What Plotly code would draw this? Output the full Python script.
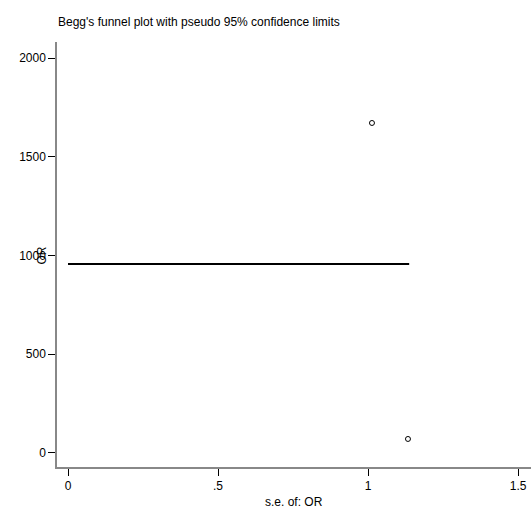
import plotly.graph_objects as go

se_values = [1.013, 1.133]
or_values = [1671, 71]
pooled_or = 957
line_se = [0, 1.137]

x_tickvals = [0, 0.5, 1, 1.5]
x_ticktext = ["0", ".5", "1", "1.5"]
y_tickvals = [0, 500, 1000, 1500, 2000]
y_ticktext = ["0", "500", "1000", "1500", "2000"]

FONT = "Liberation Sans, Arial, sans-serif"

fig = go.Figure()
fig.add_trace(go.Scatter(
    x=line_se, y=[pooled_or, pooled_or], mode="lines",
    line=dict(color="black", width=2), showlegend=False, hoverinfo="skip"))
fig.add_trace(go.Scatter(
    x=se_values, y=or_values, mode="markers",
    marker=dict(symbol="circle-open", size=5, color="black", line=dict(width=1)),
    showlegend=False))

fig.update_layout(
    width=531, height=512,
    margin=dict(l=57, r=0, t=42, b=45, autoexpand=False),
    plot_bgcolor="white", paper_bgcolor="white",
    font=dict(family=FONT, size=12, color="black"),
    xaxis=dict(range=[-0.0367, 1.543], tickvals=x_tickvals, ticktext=x_ticktext,
               showgrid=False, zeroline=False, showline=True, linecolor="#888",
               linewidth=1.5, ticks="outside", ticklen=7, tickcolor="black",
               automargin=False),
    yaxis=dict(range=[-71, 2081], tickvals=y_tickvals, ticktext=y_ticktext,
               showgrid=False, zeroline=False, showline=True, linecolor="#888",
               linewidth=1.5, ticks="outside", ticklen=7, tickcolor="black",
               automargin=False),
    annotations=[
        dict(text="Begg's funnel plot with pseudo 95% confidence limits",
             xref="paper", yref="paper", x=0, y=1.0, yshift=11, xshift=-1,
             xanchor="left", yanchor="bottom", showarrow=False,
             font=dict(family=FONT, size=12)),
        dict(text="OR", textangle=-90, xref="paper", yref="y",
             x=0, xshift=-15, y=1000, xanchor="center", yanchor="middle",
             showarrow=False, font=dict(family=FONT, size=12)),
        dict(text="s.e. of: OR", xref="paper", yref="paper",
             x=0.5, y=0, yshift=-35, xanchor="center", yanchor="middle",
             showarrow=False, font=dict(family=FONT, size=12)),
    ],
)

fig.write_html(
    "out.html",
    config={"displayModeBar": False},
    post_script="document.documentElement.style.overflow='hidden';"
                "document.body.style.margin='0';document.body.style.overflow='hidden';",
)
